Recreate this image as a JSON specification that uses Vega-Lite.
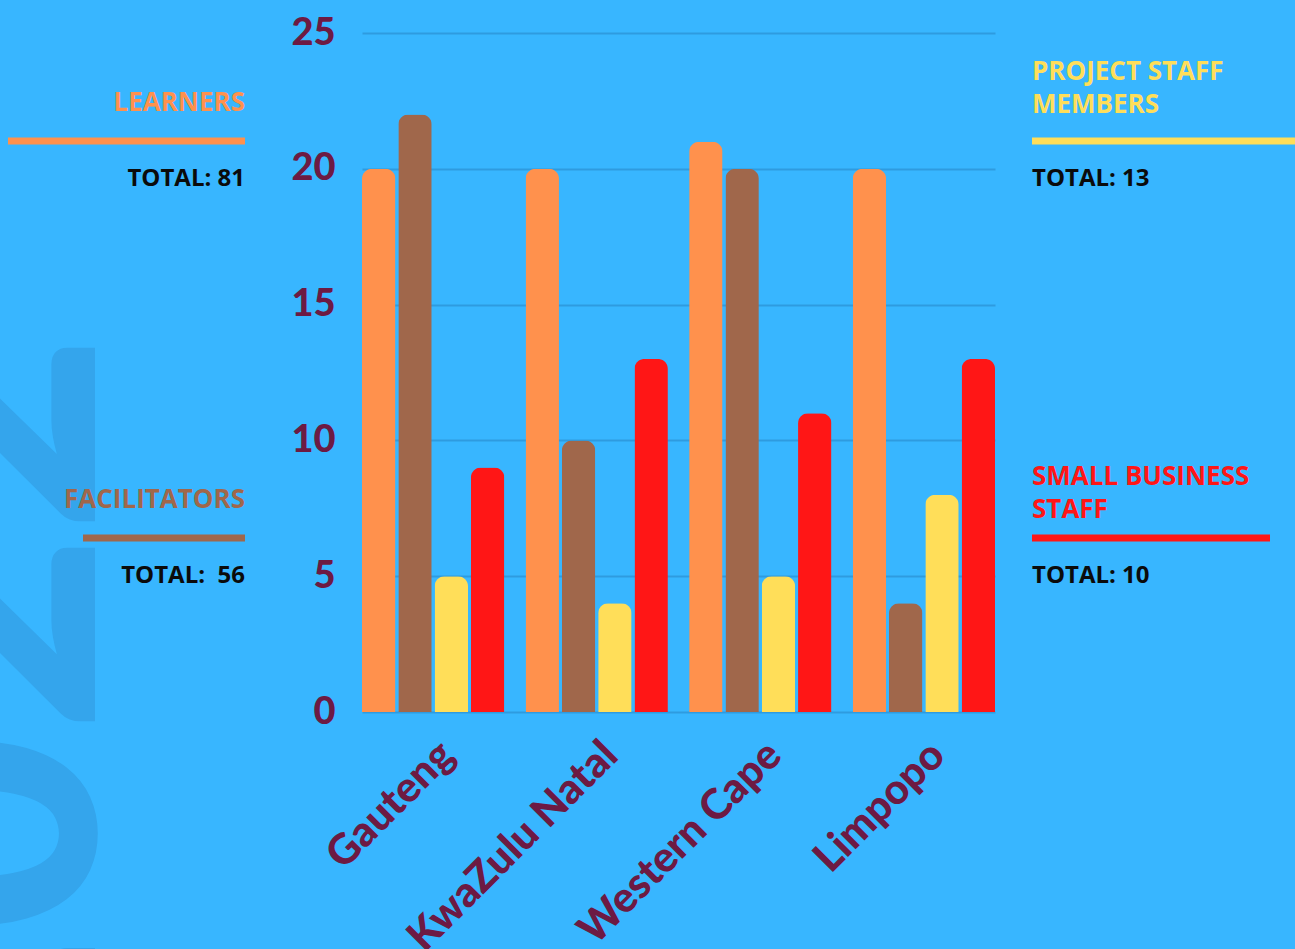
{
  "$schema": "https://vega.github.io/schema/vega-lite/v6.json",
  "background": "#38B6FF",
  "padding": {"top": 14, "left": 0, "right": 0, "bottom": 0},
  "bounds": "flush",
  "spacing": 37,
  "config": {"view": {"stroke": null}},
  "datasets": {
    "counts": [
      {"region": "Gauteng", "series": "Learners", "count": 20},
      {"region": "Gauteng", "series": "Facilitators", "count": 22},
      {"region": "Gauteng", "series": "Project Staff Members", "count": 5},
      {"region": "Gauteng", "series": "Small Business Staff", "count": 9},
      {"region": "KwaZulu Natal", "series": "Learners", "count": 20},
      {"region": "KwaZulu Natal", "series": "Facilitators", "count": 10},
      {"region": "KwaZulu Natal", "series": "Project Staff Members", "count": 4},
      {"region": "KwaZulu Natal", "series": "Small Business Staff", "count": 13},
      {"region": "Western Cape", "series": "Learners", "count": 21},
      {"region": "Western Cape", "series": "Facilitators", "count": 20},
      {"region": "Western Cape", "series": "Project Staff Members", "count": 5},
      {"region": "Western Cape", "series": "Small Business Staff", "count": 11},
      {"region": "Limpopo", "series": "Learners", "count": 20},
      {"region": "Limpopo", "series": "Facilitators", "count": 4},
      {"region": "Limpopo", "series": "Project Staff Members", "count": 8},
      {"region": "Limpopo", "series": "Small Business Staff", "count": 13}
    ],
    "legend": [
      {"series": "Learners", "side": "left", "title": "LEARNERS", "total": "TOTAL: 81"},
      {"series": "Facilitators", "side": "left", "title": "FACILITATORS", "total": "TOTAL:\u00a0\u00a056"},
      {"series": "Project Staff Members", "side": "right", "title": "PROJECT STAFF\nMEMBERS", "total": "TOTAL: 13"},
      {"series": "Small Business Staff", "side": "right", "title": "SMALL BUSINESS\nSTAFF", "total": "TOTAL: 10"}
    ],
    "decor": [{"label": "2022"}]
  },
  "hconcat": [
    {
      "width": 325,
      "height": 916,
      "layer": [
        {
          "data": {"name": "decor"},
          "mark": {"type": "text", "clip": true, "angle": 270, "align": "right", "baseline": "alphabetic", "x": 95, "y": 300, "font": "Lato", "fontWeight": 900, "fontSize": 345, "fill": "#34A5EC"},
          "encoding": {"text": {"field": "label"}}
        },
        {
          "data": {"name": "legend"},
          "transform": [{"filter": "datum.series === 'Learners'"}],
          "mark": {"type": "rule", "x": 8, "x2": 245, "strokeWidth": 7, "strokeCap": "butt"},
          "encoding": {
            "y": {"field": "series", "type": "nominal", "scale": {"type": "point", "domain": ["Learners", "Facilitators"], "range": [108, 505], "padding": 0}, "axis": null},
            "color": {"field": "series", "type": "nominal", "scale": {"domain": ["Learners", "Facilitators", "Project Staff Members", "Small Business Staff"], "range": ["#FF914D", "#A0674B", "#FFDE59", "#FF1616"]}, "legend": null}
          }
        },
        {
          "data": {"name": "legend"},
          "transform": [{"filter": "datum.series === 'Facilitators'"}],
          "mark": {"type": "rule", "x": 83, "x2": 245, "strokeWidth": 7, "strokeCap": "butt"},
          "encoding": {
            "y": {"field": "series", "type": "nominal", "scale": {"type": "point", "domain": ["Learners", "Facilitators"], "range": [108, 505], "padding": 0}, "axis": null},
            "color": {"field": "series", "type": "nominal", "scale": {"domain": ["Learners", "Facilitators", "Project Staff Members", "Small Business Staff"], "range": ["#FF914D", "#A0674B", "#FFDE59", "#FF1616"]}, "legend": null}
          }
        },
        {
          "data": {"name": "legend"},
          "transform": [{"filter": "datum.side === 'left'"}],
          "mark": {"type": "text", "x": 245, "align": "right", "baseline": "alphabetic", "dy": -30, "font": "Open Sans", "fontWeight": "bold", "fontSize": 26},
          "encoding": {
            "y": {"field": "series", "type": "nominal", "scale": {"type": "point", "domain": ["Learners", "Facilitators"], "range": [108, 505], "padding": 0}, "axis": null},
            "text": {"field": "title"},
            "color": {"field": "series", "type": "nominal", "scale": {"domain": ["Learners", "Facilitators", "Project Staff Members", "Small Business Staff"], "range": ["#FF914D", "#A0674B", "#FFDE59", "#FF1616"]}, "legend": null}
          }
        },
        {
          "data": {"name": "legend"},
          "transform": [{"filter": "datum.side === 'left'"}],
          "mark": {"type": "text", "x": 245, "align": "right", "baseline": "middle", "dy": 38, "font": "Open Sans", "fontWeight": "bold", "fontSize": 24, "color": "#0B0B0B"},
          "encoding": {
            "y": {"field": "series", "type": "nominal", "scale": {"type": "point", "domain": ["Learners", "Facilitators"], "range": [108, 505], "padding": 0}, "axis": null},
            "text": {"field": "total"}
          }
        }
      ]
    },
    {
      "width": 633,
      "height": 679,
      "data": {"name": "counts"},
      "mark": {"type": "bar", "cornerRadiusTopLeft": 10, "cornerRadiusTopRight": 10},
      "encoding": {
        "x": {
          "field": "region", "type": "nominal",
          "sort": ["Gauteng", "KwaZulu Natal", "Western Cape", "Limpopo"],
          "scale": {"paddingInner": 0.13, "paddingOuter": 0},
          "axis": {"title": null, "domain": false, "ticks": false, "labelAngle": -45, "labelLimit": 0, "labelFont": "Lato", "labelFontWeight": 900, "labelFontSize": 42, "labelColor": "#6D1A43", "labelPadding": 22}
        },
        "xOffset": {
          "field": "series", "type": "nominal",
          "sort": ["Learners", "Facilitators", "Project Staff Members", "Small Business Staff"],
          "scale": {"paddingInner": 0.08, "paddingOuter": 0}
        },
        "y": {
          "field": "count", "type": "quantitative",
          "scale": {"domain": [0, 25], "nice": false},
          "axis": {"title": null, "domain": false, "ticks": false, "values": [0, 5, 10, 15, 20, 25], "labelFont": "Lato", "labelFontWeight": 900, "labelFontSize": 38, "labelColor": "#6D1A43", "labelPadding": 27, "gridColor": "#2E9BE0", "gridWidth": 2}
        },
        "color": {
          "field": "series", "type": "nominal",
          "scale": {"domain": ["Learners", "Facilitators", "Project Staff Members", "Small Business Staff"], "range": ["#FF914D", "#A0674B", "#FFDE59", "#FF1616"]},
          "legend": null
        }
      }
    },
    {
      "width": 263,
      "height": 679,
      "layer": [
        {
          "data": {"name": "legend"},
          "transform": [{"filter": "datum.series === 'Project Staff Members'"}],
          "mark": {"type": "rule", "x": 0, "x2": 263, "strokeWidth": 7, "strokeCap": "butt"},
          "encoding": {
            "y": {"field": "series", "type": "nominal", "scale": {"type": "point", "domain": ["Project Staff Members", "Small Business Staff"], "range": [108, 505], "padding": 0}, "axis": null},
            "color": {"field": "series", "type": "nominal", "scale": {"domain": ["Learners", "Facilitators", "Project Staff Members", "Small Business Staff"], "range": ["#FF914D", "#A0674B", "#FFDE59", "#FF1616"]}, "legend": null}
          }
        },
        {
          "data": {"name": "legend"},
          "transform": [{"filter": "datum.series === 'Small Business Staff'"}],
          "mark": {"type": "rule", "x": 0, "x2": 238, "strokeWidth": 7, "strokeCap": "butt"},
          "encoding": {
            "y": {"field": "series", "type": "nominal", "scale": {"type": "point", "domain": ["Project Staff Members", "Small Business Staff"], "range": [108, 505], "padding": 0}, "axis": null},
            "color": {"field": "series", "type": "nominal", "scale": {"domain": ["Learners", "Facilitators", "Project Staff Members", "Small Business Staff"], "range": ["#FF914D", "#A0674B", "#FFDE59", "#FF1616"]}, "legend": null}
          }
        },
        {
          "data": {"name": "legend"},
          "transform": [{"filter": "datum.series === 'Project Staff Members'"}],
          "mark": {"type": "text", "x": 0, "align": "left", "baseline": "alphabetic", "dy": -61, "lineBreak": "\n", "lineHeight": 33, "font": "Open Sans", "fontWeight": "bold", "fontSize": 26},
          "encoding": {
            "y": {"field": "series", "type": "nominal", "scale": {"type": "point", "domain": ["Project Staff Members", "Small Business Staff"], "range": [108, 505], "padding": 0}, "axis": null},
            "text": {"field": "title"},
            "color": {"field": "series", "type": "nominal", "scale": {"domain": ["Learners", "Facilitators", "Project Staff Members", "Small Business Staff"], "range": ["#FF914D", "#A0674B", "#FFDE59", "#FF1616"]}, "legend": null}
          }
        },
        {
          "data": {"name": "legend"},
          "transform": [{"filter": "datum.series === 'Small Business Staff'"}],
          "mark": {"type": "text", "x": 0, "align": "left", "baseline": "alphabetic", "dy": -53, "lineBreak": "\n", "lineHeight": 33, "font": "Open Sans", "fontWeight": "bold", "fontSize": 26},
          "encoding": {
            "y": {"field": "series", "type": "nominal", "scale": {"type": "point", "domain": ["Project Staff Members", "Small Business Staff"], "range": [108, 505], "padding": 0}, "axis": null},
            "text": {"field": "title"},
            "color": {"field": "series", "type": "nominal", "scale": {"domain": ["Learners", "Facilitators", "Project Staff Members", "Small Business Staff"], "range": ["#FF914D", "#A0674B", "#FFDE59", "#FF1616"]}, "legend": null}
          }
        },
        {
          "data": {"name": "legend"},
          "transform": [{"filter": "datum.side === 'right'"}],
          "mark": {"type": "text", "x": 0, "align": "left", "baseline": "middle", "dy": 38, "font": "Open Sans", "fontWeight": "bold", "fontSize": 24, "color": "#0B0B0B"},
          "encoding": {
            "y": {"field": "series", "type": "nominal", "scale": {"type": "point", "domain": ["Project Staff Members", "Small Business Staff"], "range": [108, 505], "padding": 0}, "axis": null},
            "text": {"field": "total"}
          }
        }
      ]
    }
  ]
}
